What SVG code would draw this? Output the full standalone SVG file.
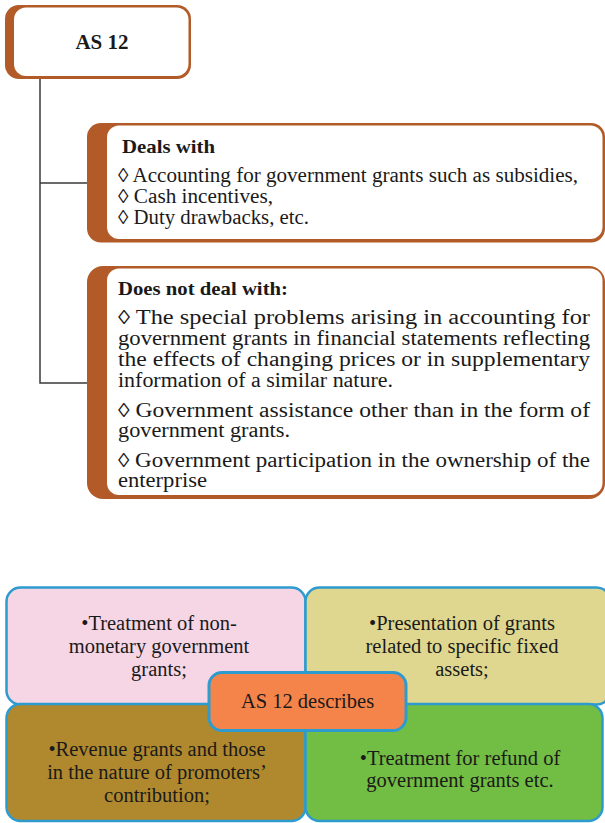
<svg xmlns="http://www.w3.org/2000/svg" width="605" height="823" viewBox="0 0 605 823">
<style>
text{font-family:'Liberation Serif','DejaVu Serif',serif;font-size:20px;fill:#1a1a1a}
.b{font-weight:bold;font-size:19px}
.c{text-anchor:middle}
.s{font-size:20.5px}
.brown{fill:#b25a28}
.white{fill:#ffffff}
.q{stroke:#2e9bcf;stroke-width:2.5}
.conn{fill:none;stroke:#3a3a3a;stroke-width:1.5}
</style>
<rect width="605" height="823" fill="#ffffff"/>
<g id="connectors">
<path class="conn" d="M40,78 V383 H88 M40,183 H88"/>
</g>
<g id="as12">
<rect class="brown" x="5" y="5" width="186" height="74" rx="14"/>
<rect class="white" x="14" y="7.5" width="174.5" height="68.5" rx="12"/>
<text class="b c" x="102" y="49" style="font-size:21px">AS 12</text>
</g>
<g id="deals">
<rect class="brown" x="87" y="123" width="518" height="119.5" rx="14"/>
<rect class="white" x="107" y="125.5" width="495.5" height="113.5" rx="12"/>
<text class="b" x="122" y="153" textLength="93" lengthAdjust="spacingAndGlyphs">Deals with</text>
<text x="118" y="182" textLength="460" lengthAdjust="spacingAndGlyphs">◊ Accounting for government grants such as subsidies,</text>
<text x="118" y="203" textLength="155" lengthAdjust="spacingAndGlyphs">◊ Cash incentives,</text>
<text x="118" y="224" textLength="191" lengthAdjust="spacingAndGlyphs">◊ Duty drawbacks, etc.</text>
</g>
<g id="notdeal">
<rect class="brown" x="87" y="266" width="518" height="233" rx="16"/>
<rect class="white" x="107" y="268.5" width="495.5" height="226.5" rx="12"/>
<text class="b" x="118" y="295" textLength="170" lengthAdjust="spacingAndGlyphs">Does not deal with:</text>
<text x="118" y="324" textLength="472" lengthAdjust="spacingAndGlyphs">◊ The special problems arising in accounting for</text>
<text x="118" y="345" textLength="472" lengthAdjust="spacingAndGlyphs">government grants in financial statements reflecting</text>
<text x="118" y="366" textLength="472" lengthAdjust="spacingAndGlyphs">the effects of changing prices or in supplementary</text>
<text x="118" y="387" textLength="275" lengthAdjust="spacingAndGlyphs">information of a similar nature.</text>
<text x="118" y="417" textLength="472" lengthAdjust="spacingAndGlyphs">◊ Government assistance other than in the form of</text>
<text x="118" y="437" textLength="172" lengthAdjust="spacingAndGlyphs">government grants.</text>
<text x="118" y="467" textLength="472" lengthAdjust="spacingAndGlyphs">◊ Government participation in the ownership of the</text>
<text x="118" y="487" textLength="89" lengthAdjust="spacingAndGlyphs">enterprise</text>
</g>
<g id="q-pink">
<rect class="q" x="6.5" y="587.5" width="299" height="117" rx="14" fill="#f6d6e5"/>
<text class="c s" x="159" y="630">•Treatment of non-</text>
<text class="c s" x="159" y="653">monetary government</text>
<text class="c s" x="159" y="676">grants;</text>
</g>
<g id="q-yellow">
<rect class="q" x="305.5" y="587.5" width="305" height="117" rx="14" fill="#dfd78f"/>
<text class="c s" x="462" y="630">•Presentation of grants</text>
<text class="c s" x="462" y="653">related to specific fixed</text>
<text class="c s" x="462" y="676">assets;</text>
</g>
<g id="q-brown">
<rect class="q" x="6.5" y="704" width="299" height="117" rx="14" fill="#b0892e"/>
<text class="c s" x="157" y="756">•Revenue grants and those</text>
<text class="c s" x="157" y="779">in the nature of promoters’</text>
<text class="c s" x="157" y="802">contribution;</text>
</g>
<g id="q-green">
<rect class="q" x="305.5" y="704" width="297" height="117" rx="14" fill="#72bd43"/>
<text class="c s" x="460" y="765">•Treatment for refund of</text>
<text class="c s" x="460" y="787">government grants etc.</text>
</g>
<g id="center">
<rect x="209" y="672.5" width="197" height="58" rx="13" fill="#f5844a" stroke="#2e9bcf" stroke-width="3"/>
<text class="c s" x="307.5" y="708">AS 12 describes</text>
</g>
</svg>
